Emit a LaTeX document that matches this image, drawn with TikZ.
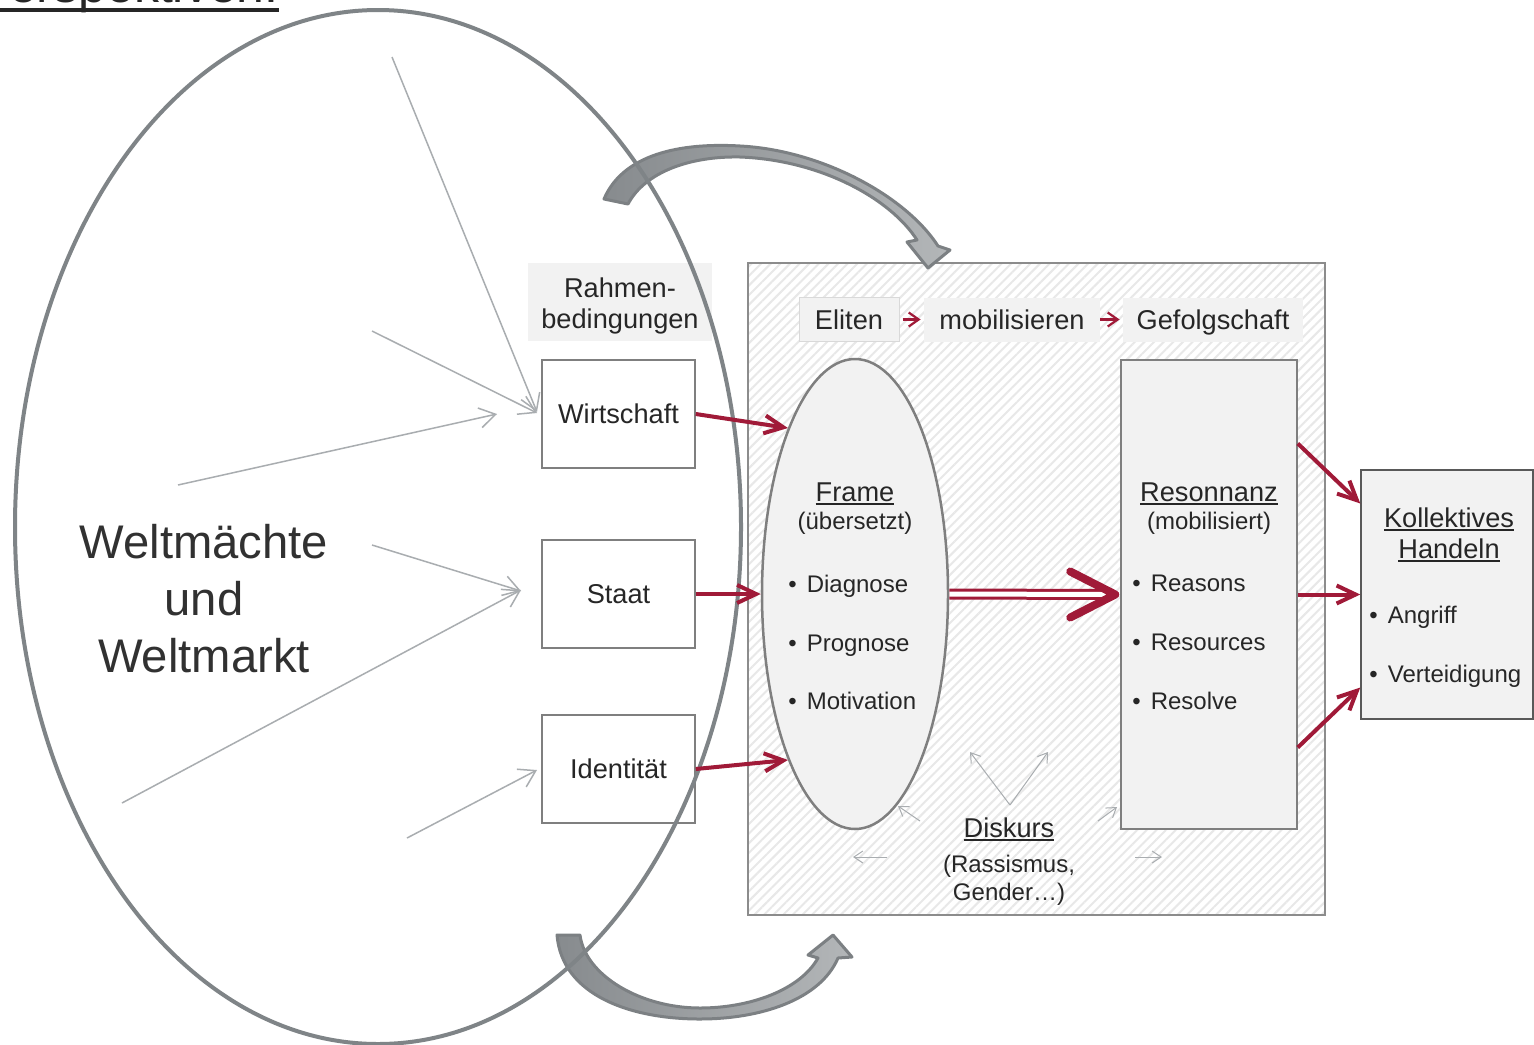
\documentclass[tikz,border=0pt]{standalone}
\usepackage{fontspec}
\setmainfont{Liberation Sans}
\usetikzlibrary{arrows.meta,shapes.geometric,patterns.meta,calc}
\definecolor{tcol}{HTML}{262626}
\definecolor{crim}{RGB}{160,26,56}
\definecolor{lgray}{HTML}{A9ADB0}
\definecolor{dgray}{HTML}{7F8487}
\definecolor{boxfill}{HTML}{F2F2F2}
\definecolor{boxline}{HTML}{7F7F7F}
\definecolor{arrline}{HTML}{7C8083}
\definecolor{arrdark}{HTML}{878B8E}
\definecolor{arrlight}{HTML}{B3B6B8}
\newcommand\myul[1]{{\setbox0=\hbox{#1}\rlap{\rule[-0.13em]{\wd0}{0.075em}}\box0}}
\newcommand\myulT[1]{{\setbox0=\hbox{#1}\rlap{\rule[-0.174em]{\wd0}{0.068em}}\box0}}
\newcommand\fsmain{\fontsize{13.6pt}{16pt}\selectfont}
\newcommand\fssmall{\fontsize{12pt}{14pt}\selectfont}
\newcommand\fsbig{\fontsize{23.6pt}{28pt}\selectfont}
\begin{document}
\begin{tikzpicture}[x=0.5pt,y=-0.5pt,
 lbl/.style={text=tcol,inner sep=0pt,font=\fsmain},
 lblsm/.style={text=tcol,inner sep=0pt,font=\fssmall},
 lblbig/.style={text=tcol!95!white,inner sep=0pt,font=\fsbig},
 condbox/.style={draw=boxline,line width=0.75pt,fill=white,minimum width=76.5pt,minimum height=54pt,inner sep=0pt,text=tcol,font=\fsmain,text height=9.8pt,text depth=0pt},
 tagbox/.style={fill=boxfill,minimum height=22pt,inner sep=0pt,text=tcol,font=\fsmain,text height=9.8pt,text depth=0pt},
 garrow/.style={draw=lgray,line width=0.75pt,-{Straight Barb[length=8pt,width=10pt]}},
 darrow/.style={draw=lgray,line width=0.5pt,-{Straight Barb[length=4.5pt,width=6pt]}},
 rarrow/.style={draw=crim,line width=2pt,-{Straight Barb[length=9.5pt,width=9pt]}},
 sarrow/.style={draw=crim,line width=1.1pt,-{Straight Barb[length=5pt,width=7pt]}},
 curvarrow/.style={draw=arrline,line width=1.5pt,line join=round,left color=arrdark,right color=arrlight},
]
\path[use as bounding box, fill=white] (0,0) rectangle (1534,1044);

% title (cut off at top, as in the reference)
\node[anchor=base east,inner sep=0pt,text=tcol,font=\fontsize{25pt}{30pt}\selectfont] (title) at (279,3) {\myulT{Perspektiven:}};

% hatched discourse box
\node[draw=boxline!90,line width=0.75pt,pattern={Lines[angle=45,distance=3.4pt,line width=1pt]},pattern color=black!9,minimum width=288.5pt,minimum height=326pt,inner sep=0pt] (disk) at (1036.5,589) {};

% curved block arrows
\path[curvarrow] (604,199) .. controls (625,150) and (690,143) .. (740,146) .. controls (820,150) and (905,195) .. (938,246) -- (950,250) -- (928,268) -- (907,242) -- (917,240) .. controls (890,198) and (820,160) .. (740,157) .. controls (690,156) and (645,172) .. (628,204) -- cycle;
\path[curvarrow] (557,935) -- (580,935) .. controls (585,975) and (640,1008) .. (700,1008) .. controls (750,1008) and (800,990) .. (818,958) -- (808,955) -- (833,935) -- (852,957) -- (838,958) .. controls (820,1000) and (760,1019) .. (700,1019) .. controls (630,1019) and (562,995) .. (557,935) -- cycle;

% Rahmenbedingungen label
\node[fill=boxfill,minimum width=92pt,minimum height=39pt,inner sep=0pt] (rahmen) at (620,302) {};
\node[lbl,anchor=base] (rahmen1) at (620,297) {Rahmen-};
\node[lbl,anchor=base] (rahmen2) at (620,328) {bedingungen};

% condition boxes
\node[condbox] (wirt) at (618.5,414) {Wirtschaft};
\node[condbox] (staat) at (618.5,594) {Staat};
\node[condbox] (ident) at (618.5,769) {Identität};

% big ellipse
\node[draw=dgray,line width=2pt,ellipse,minimum width=363pt,minimum height=517pt,inner sep=0pt] (world) at (378,527) {};
\node[lblbig,anchor=base] (w1) at (204,558) {Weltmächte};
\node[lblbig,anchor=base] (w2) at (204,615) {und};
\node[lblbig,anchor=base] (w3) at (204,672) {Weltmarkt};

% gray input arrows
\coordinate (g1s) at (392,57);  \coordinate (g1e) at (537,412);
\coordinate (g2s) at (372,331); \coordinate (g2e) at (537,413);
\coordinate (g3s) at (178,485); \coordinate (g3e) at (497,414);
\coordinate (g4s) at (372,545); \coordinate (g4e) at (521,591);
\coordinate (g5s) at (122,803); \coordinate (g5e) at (521,590);
\coordinate (g6s) at (407,838); \coordinate (g6e) at (537,770);
\draw[garrow] (g1s) -- (g1e);
\draw[garrow] (g2s) -- (g2e);
\draw[garrow] (g3s) -- (g3e);
\draw[garrow] (g4s) -- (g4e);
\draw[garrow] (g5s) -- (g5e);
\draw[garrow] (g6s) -- (g6e);

% Eliten row
\node[tagbox,draw=black!15,line width=0.5pt,minimum width=50pt] (elit) at (849,319.5) {Eliten};
\node[tagbox,minimum width=88pt] (mobi) at (1012,319.5) {mobilisieren};
\node[tagbox,minimum width=90pt] (gef) at (1213,319.5) {Gefolgschaft};
\draw[sarrow,shorten <=1.5pt,shorten >=1.5pt] (elit.east) -- (mobi.west);
\draw[sarrow,shorten <=0pt,shorten >=1.5pt] (mobi.east) -- (gef.west);

% Frame ellipse
\node[draw=boxline,line width=1.25pt,fill=boxfill,ellipse,minimum width=93pt,minimum height=235pt,inner sep=0pt] (frame) at (855,594) {};
\node[lbl,anchor=base] (fr1) at (855,501) {\myul{Frame}};
\node[lblsm,anchor=base] (fr2) at (855,529) {(übersetzt)};
\node[lblsm,anchor=base west] (fr3) at (788,592) {•\kern5pt Diagnose};
\node[lblsm,anchor=base west] (fr4) at (788,651) {•\kern5pt Prognose};
\node[lblsm,anchor=base west] (fr5) at (788,709) {•\kern5pt Motivation};

% Resonanz box
\node[draw=boxline,line width=0.75pt,fill=boxfill,minimum width=88pt,minimum height=234.5pt,inner sep=0pt] (res) at (1209,594.5) {};
\node[lbl,anchor=base] (re1) at (1209,501.5) {\myul{Resonnanz}};
\node[lblsm,anchor=base] (re2) at (1209,529) {(mobilisiert)};
\node[lblsm,anchor=base west] (re3) at (1132,591) {•\kern5pt Reasons};
\node[lblsm,anchor=base west] (re4) at (1132,650) {•\kern5pt Resources};
\node[lblsm,anchor=base west] (re5) at (1132,709) {•\kern5pt Resolve};

% Kollektives Handeln box
\node[draw=black!65,line width=0.75pt,fill=boxfill,minimum width=86pt,minimum height=124.5pt,inner sep=0pt] (kol) at (1447,594.5) {};
\node[lbl,anchor=base] (ko1) at (1449,527) {\myul{Kollektives}};
\node[lbl,anchor=base] (ko2) at (1449,558) {\myul{Handeln}};
\node[lblsm,anchor=base west] (ko3) at (1369,623) {•\kern5pt Angriff};
\node[lblsm,anchor=base west] (ko4) at (1369,682) {•\kern5pt Verteidigung};

% Diskurs label and small arrows
\node[lbl,anchor=base] (dk1) at (1009,837) {\myul{Diskurs}};
\node[lblsm,anchor=base] (dk2) at (1009,872) {(Rassismus,};
\node[lblsm,anchor=base] (dk3) at (1009,900) {Gender…)};
\coordinate (dv) at (1010,805);
\coordinate (dv1) at (970,752);
\coordinate (dv2) at (1048,752);
\coordinate (d3s) at (920,821);  \coordinate (d3e) at (898,806);
\coordinate (d4s) at (1098,821); \coordinate (d4e) at (1117,807);
\coordinate (d5s) at (887,857);  \coordinate (d5e) at (853,857);
\coordinate (d6s) at (1135,857); \coordinate (d6e) at (1162,857);
\draw[darrow] (dv) -- (dv1);
\draw[darrow] (dv) -- (dv2);
\draw[darrow] (d3s) -- (d3e);
\draw[darrow] (d4s) -- (d4e);
\draw[darrow] (d5s) -- (d5e);
\draw[darrow] (d6s) -- (d6e);

% red connectors
\draw[rarrow] (wirt.east) -- (frame.112);
\draw[rarrow] (staat.east) -- (frame.west);
\draw[rarrow] (ident.east) -- (frame.248);
\draw[draw=crim,line width=1.5pt,double=white,double distance=2.5pt] (frame.east) -- ($(res.west)+(-9,0)$);
\draw[crim,line width=4pt,line cap=round,line join=round] ($(res.west)+(-50,-23)$) -- ($(res.west)+(-5,0)$) -- ($(res.west)+(-50,23)$);
\draw[rarrow] ($(res.east)+(0,-151)$) -- ($(kol.west)+(0,-91)$);
\draw[rarrow] (res.east) -- (kol.west);
\draw[rarrow] ($(res.east)+(0,153)$) -- ($(kol.west)+(0,93)$);
\end{tikzpicture}
\end{document}
